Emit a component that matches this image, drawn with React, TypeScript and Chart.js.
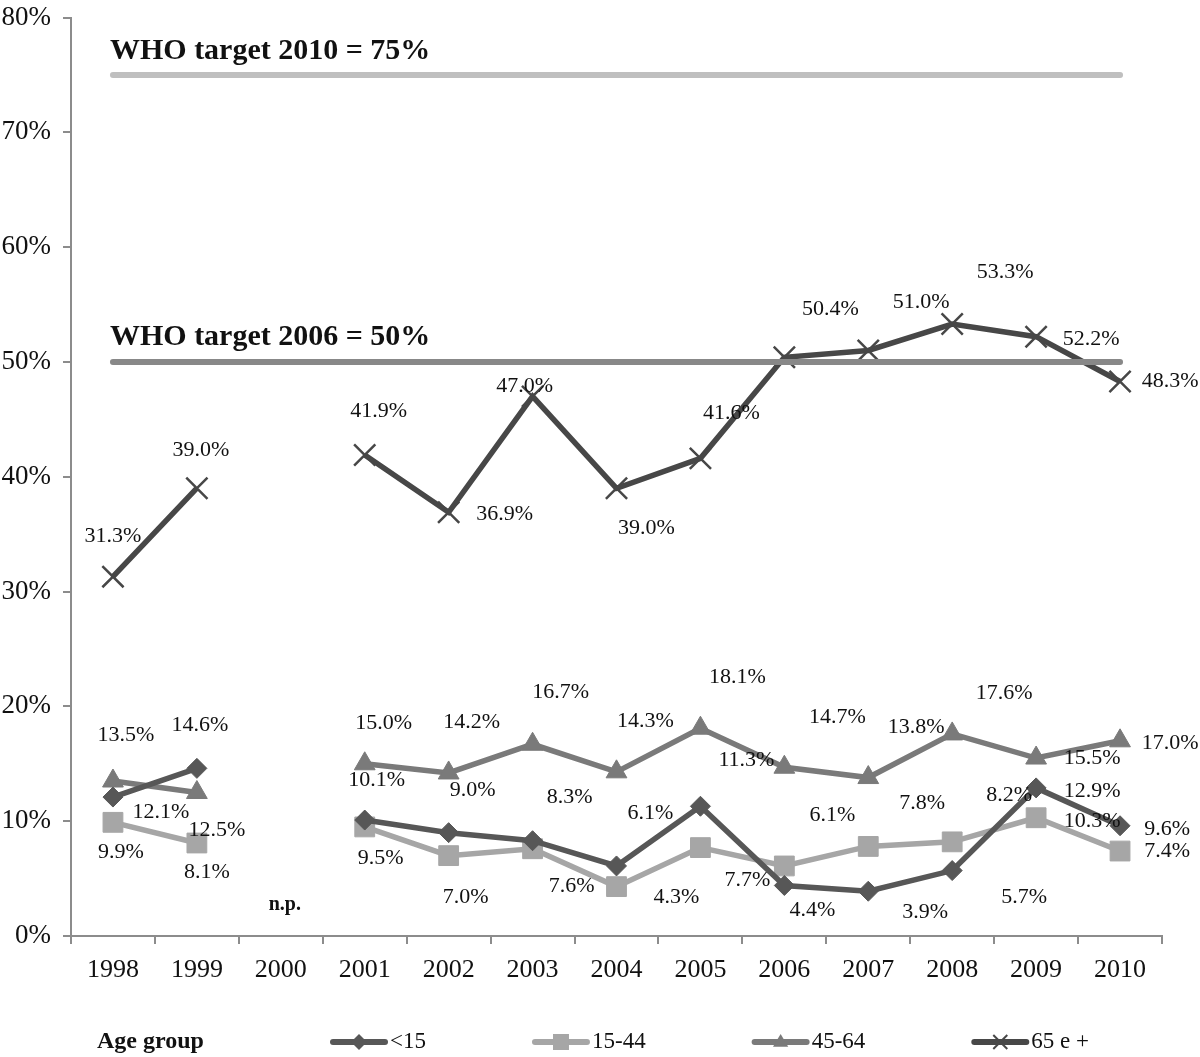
import React, { useEffect, useRef } from "react";
import { Chart, registerables } from "chart.js";

Chart.register(...registerables);

const years = ["1998", "1999", "2000", "2001", "2002", "2003", "2004", "2005", "2006", "2007", "2008", "2009", "2010"];

const under15 = [12.1, 14.6, null, 10.1, 9.0, 8.3, 6.1, 11.3, 4.4, 3.9, 5.7, 12.9, 9.6];
const age15to44 = [9.9, 8.1, null, 9.5, 7.0, 7.6, 4.3, 7.7, 6.1, 7.8, 8.2, 10.3, 7.4];
const age45to64 = [13.5, 12.5, null, 15.0, 14.2, 16.7, 14.3, 18.1, 14.7, 13.8, 17.6, 15.5, 17.0];
const age65plus = [31.3, 39.0, null, 41.9, 36.9, 47.0, 39.0, 41.6, 50.4, 51.0, 53.3, 52.2, 48.3];

const who2010Target = 75;
const who2006Target = 50;
const who2010Label = "WHO target 2010 = 75%";
const who2006Label = "WHO target 2006 = 50%";
const missingYearNote = "n.p.";
const legendTitle = "Age group";

const yMin = 0;
const yMax = 80;
const yStep = 10;

// text placement of the value labels relative to their point (dx, dy in px)
const labelOffsets: Record<string, ([number, number] | null)[]> = {
  "65 e +": [[0, -40], [4, -38], null, [14, -44], [56, 2], [-8, -10], [30, 40], [31, -45], [46, -48], [53, -48], [53, -52], [55, 3], [50, 0]],
  "45-64": [[13, -46], [20, 38], null, [19, -41], [23, -51], [28, -52], [29, -51], [37, -51], [53, -50], [48, -50], [52, -41], [56, 0], [50, 2]],
  "<15": [[48, 15], [3, -43], null, [12, -40], [24, -42], [37, -43], [34, -53], [46, -46], [28, 25], [57, 21], [72, 27], [56, 3], [47, 3]],
  "15-44": [[8, 30], [10, 29], null, [16, 31], [17, 42], [39, 37], [60, 11], [47, 33], [48, -51], [54, -43], [57, -47], [56, 3], [47, 0]],
};

const SERIF = '"Liberation Serif", "Times New Roman", serif';
const AXIS = "#8c8c8c";

const seriesStyles = [
  { label: "<15", data: under15, color: "#575757", point: "rectRot", radius: 10, bw: 1 },
  { label: "15-44", data: age15to44, color: "#a6a6a6", point: "rect", radius: 14, bw: 1 },
  { label: "45-64", data: age45to64, color: "#7a7a7a", point: "triangle", radius: 12, bw: 1 },
  { label: "65 e +", data: age65plus, color: "#474747", point: "crossRot", radius: 15, bw: 2.5 },
];

function drawMarker(ctx: CanvasRenderingContext2D, style: string, x: number, y: number, r: number, color: string) {
  ctx.save();
  ctx.fillStyle = color;
  ctx.strokeStyle = color;
  ctx.beginPath();
  if (style === "rectRot") {
    ctx.moveTo(x - r, y);
    ctx.lineTo(x, y - r);
    ctx.lineTo(x + r, y);
    ctx.lineTo(x, y + r);
    ctx.closePath();
    ctx.fill();
  } else if (style === "rect") {
    ctx.rect(x - r, y - r, 2 * r, 2 * r);
    ctx.fill();
  } else if (style === "triangle") {
    ctx.moveTo(x, y - r);
    ctx.lineTo(x + r * 0.95, y + r * 0.6);
    ctx.lineTo(x - r * 0.95, y + r * 0.6);
    ctx.closePath();
    ctx.fill();
  } else {
    ctx.lineWidth = 2;
    ctx.moveTo(x - r, y - r);
    ctx.lineTo(x + r, y + r);
    ctx.moveTo(x + r, y - r);
    ctx.lineTo(x - r, y + r);
    ctx.stroke();
  }
  ctx.restore();
}

const annotationPlugin = {
  id: "annotations",
  afterDatasetsDraw(chart: any) {
    const ctx: CanvasRenderingContext2D = chart.ctx;
    const xs = chart.scales.x;
    const ys = chart.scales.y;
    ctx.save();

    // value labels
    ctx.font = `22px ${SERIF}`;
    ctx.fillStyle = "#111";
    ctx.textAlign = "center";
    ctx.textBaseline = "middle";
    chart.data.datasets.forEach((ds: any, i: number) => {
      const offs = labelOffsets[ds.label];
      if (!offs) return;
      const meta = chart.getDatasetMeta(i);
      meta.data.forEach((pt: any, j: number) => {
        const v = ds.data[j];
        const off = offs[j];
        if (v == null || !off) return;
        ctx.fillText(v.toFixed(1) + "%", pt.x + off[0], pt.y + off[1]);
      });
    });

    // target labels
    ctx.font = `bold 30px ${SERIF}`;
    ctx.textAlign = "left";
    ctx.textBaseline = "alphabetic";
    const tx = xs.getPixelForValue(0) - 3;
    ctx.fillText(who2010Label, tx, ys.getPixelForValue(who2010Target) - 16);
    ctx.fillText(who2006Label, tx, ys.getPixelForValue(who2006Target) - 17);

    // missing year note
    ctx.font = `bold 20px ${SERIF}`;
    ctx.textAlign = "center";
    ctx.textBaseline = "middle";
    ctx.fillText(missingYearNote, xs.getPixelForValue(2) + 4, ys.getPixelForValue(2.7));

    // legend
    const ly = 1042;
    ctx.font = `bold 24px ${SERIF}`;
    ctx.textAlign = "left";
    ctx.fillText(legendTitle, 97, ly);
    ctx.font = `23px ${SERIF}`;
    let x = 330;
    seriesStyles.forEach((s) => {
      ctx.save();
      ctx.strokeStyle = s.color;
      ctx.lineWidth = 6;
      ctx.lineCap = "round";
      ctx.beginPath();
      ctx.moveTo(x + 3, ly);
      ctx.lineTo(x + 55, ly);
      ctx.stroke();
      ctx.restore();
      const mr = s.point === "rect" ? 8 : s.point === "crossRot" ? 7 : 8;
      drawMarker(ctx, s.point, x + 29, ly, mr, s.color);
      ctx.fillStyle = "#111";
      ctx.fillText(s.label, x + 60, ly);
      const w = ctx.measureText(s.label).width;
      x += 60 + w + 106;
    });

    ctx.restore();
  },
};

export default function App() {
  const ref = useRef<HTMLCanvasElement | null>(null);

  useEffect(() => {
    if (!ref.current) return;
    const targetData = (v: number) => years.map(() => v);
    const chart = new Chart(ref.current, {
      type: "line",
      data: {
        labels: years,
        datasets: [
          {
            label: "target2006",
            data: targetData(who2006Target),
            borderColor: "#888888",
            borderWidth: 6,
            borderCapStyle: "round",
            pointRadius: 0,
            fill: false,
          } as any,
          ...seriesStyles.map((s) => ({
            label: s.label,
            data: s.data,
            borderColor: s.color,
            backgroundColor: s.color,
            borderWidth: 5.5,
            pointStyle: s.point,
            pointRadius: s.radius,
            pointBorderWidth: s.bw,
            pointBorderColor: s.color,
            pointBackgroundColor: s.color,
            spanGaps: false,
            tension: 0,
            fill: false,
          })),
          {
            label: "target2010",
            data: targetData(who2010Target),
            borderColor: "#bfbfbf",
            borderWidth: 6,
            borderCapStyle: "round",
            pointRadius: 0,
            fill: false,
          } as any,
        ],
      },
      options: {
        responsive: false,
        animation: false,
        devicePixelRatio: 1,
        layout: { padding: { top: 15, right: 38, left: 0, bottom: 0 } },
        plugins: {
          legend: { display: false },
          tooltip: { enabled: false },
        },
        scales: {
          x: {
            type: "category",
            offset: true,
            grid: {
              offset: true,
              drawOnChartArea: false,
              drawTicks: true,
              tickLength: 8,
              color: AXIS,
              lineWidth: 2,
            },
            border: { display: true, color: AXIS, width: 2 },
            ticks: {
              font: { family: SERIF, size: 26 },
              color: "#111",
              padding: 11,
              maxRotation: 0,
              autoSkip: false,
            },
            afterFit: (scale: any) => {
              scale.height = 121;
              scale.paddingLeft = 0;
              scale.paddingRight = 0;
            },
          },
          y: {
            min: yMin,
            max: yMax,
            grid: {
              drawOnChartArea: false,
              drawTicks: true,
              tickLength: 8,
              color: AXIS,
              lineWidth: 2,
            },
            border: { display: true, color: AXIS, width: 2 },
            ticks: {
              stepSize: yStep,
              font: { family: SERIF, size: 27 },
              color: "#111",
              padding: 12,
              callback: (v: any) => `${v}%`,
            },
            afterFit: (scale: any) => {
              scale.width = 71;
              scale.paddingTop = 0;
              scale.paddingBottom = 0;
            },
          },
        },
      },
      plugins: [annotationPlugin],
    } as any);
    return () => chart.destroy();
  }, []);

  return (
    <div style={{ position: "absolute", left: 0, top: 0, width: 1200, height: 1057, background: "#fff" }}>
      <canvas ref={ref} width={1200} height={1057} style={{ display: "block" }} />
    </div>
  );
}
